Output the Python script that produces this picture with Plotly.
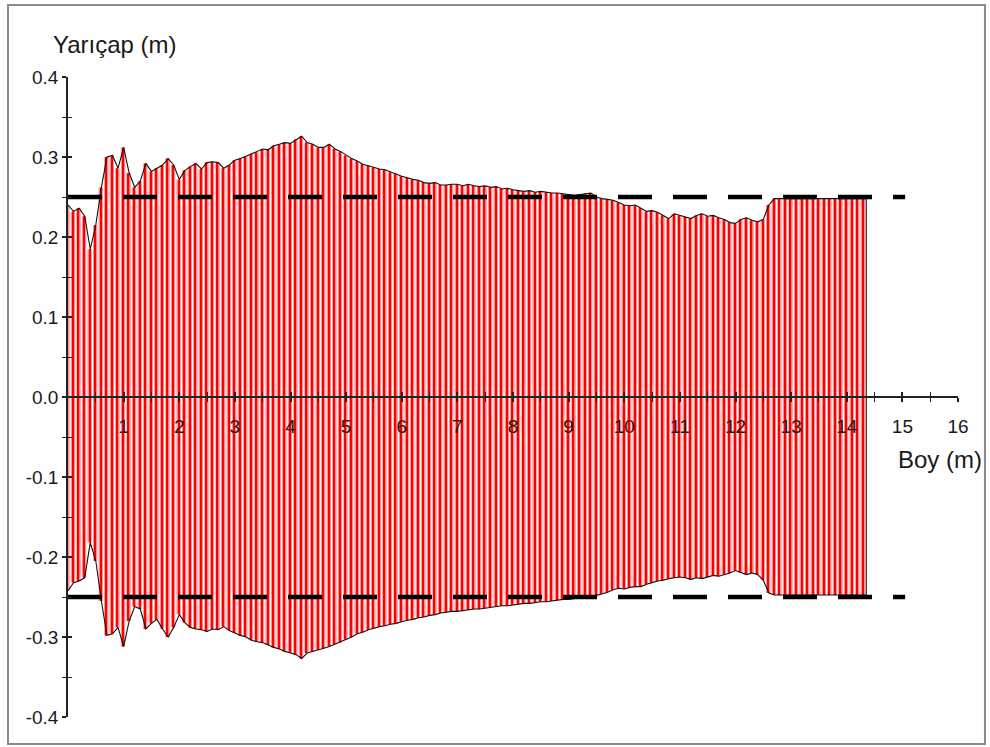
import plotly.graph_objects as go

# Radius profile along the length (station spacing 0.1 m)
top_radius = [
    0.240, 0.232, 0.236, 0.226, 0.185, 0.215, 0.262, 0.300, 0.302, 0.286,
    0.312, 0.280, 0.262, 0.270, 0.292, 0.282, 0.286, 0.290, 0.298, 0.290,
    0.272, 0.283, 0.288, 0.292, 0.285, 0.293, 0.294, 0.293, 0.286, 0.290,
    0.296, 0.298, 0.301, 0.304, 0.306, 0.310, 0.309, 0.314, 0.316, 0.318,
    0.317, 0.322, 0.326, 0.318, 0.316, 0.312, 0.312, 0.316, 0.310, 0.307,
    0.302, 0.298, 0.295, 0.291, 0.289, 0.287, 0.285, 0.284, 0.281, 0.279,
    0.276, 0.274, 0.272, 0.271, 0.268, 0.267, 0.268, 0.265, 0.265, 0.266,
    0.266, 0.264, 0.266, 0.264, 0.263, 0.264, 0.262, 0.263, 0.260, 0.261,
    0.259, 0.258, 0.257, 0.258, 0.256, 0.257, 0.256, 0.255, 0.255, 0.254,
    0.253, 0.252, 0.253, 0.254, 0.255, 0.250, 0.248, 0.247, 0.246, 0.243,
    0.240, 0.239, 0.240, 0.236, 0.232, 0.233, 0.231, 0.227, 0.223, 0.229,
    0.227, 0.225, 0.223, 0.227, 0.229, 0.226, 0.227, 0.224, 0.222, 0.218,
    0.217, 0.222, 0.224, 0.221, 0.219, 0.222, 0.240, 0.248, 0.248, 0.248,
    0.248, 0.248, 0.248, 0.248, 0.248, 0.248, 0.248, 0.248, 0.248, 0.248,
    0.248, 0.248, 0.248, 0.248,
]
bottom_radius = [
    0.242, 0.232, 0.230, 0.226, 0.182, 0.205, 0.255, 0.298, 0.296, 0.288,
    0.312, 0.280, 0.262, 0.265, 0.290, 0.283, 0.278, 0.290, 0.300, 0.288,
    0.272, 0.282, 0.288, 0.290, 0.291, 0.293, 0.290, 0.291, 0.287, 0.292,
    0.295, 0.298, 0.300, 0.304, 0.306, 0.307, 0.310, 0.313, 0.315, 0.318,
    0.320, 0.322, 0.327, 0.320, 0.318, 0.316, 0.314, 0.312, 0.309, 0.307,
    0.303, 0.300, 0.296, 0.294, 0.291, 0.289, 0.287, 0.286, 0.284, 0.283,
    0.281, 0.279, 0.278, 0.276, 0.275, 0.273, 0.272, 0.270, 0.269, 0.268,
    0.268, 0.267, 0.266, 0.265, 0.265, 0.264, 0.263, 0.262, 0.261, 0.261,
    0.260, 0.259, 0.258, 0.258, 0.257, 0.256, 0.256, 0.255, 0.254, 0.253,
    0.253, 0.252, 0.251, 0.250, 0.249, 0.248, 0.246, 0.244, 0.241, 0.239,
    0.240, 0.238, 0.237, 0.237, 0.234, 0.232, 0.230, 0.229, 0.227, 0.226,
    0.225, 0.226, 0.228, 0.226, 0.227, 0.225, 0.223, 0.224, 0.222, 0.220,
    0.217, 0.219, 0.222, 0.220, 0.222, 0.229, 0.245, 0.2475, 0.2475, 0.2475,
    0.2475, 0.2475, 0.2475, 0.2475, 0.2475, 0.2475, 0.2475, 0.2475, 0.2475, 0.2475,
    0.2475, 0.2475, 0.2475, 0.2475,
]
station_step = 0.1
stations = [round(i * station_step, 2) for i in range(len(top_radius))]
design_radius = 0.25
design_end = 15.05
x_tick_values = list(range(1, 17))
x_tick_labels = [str(v) for v in x_tick_values]
x_minor_ticks = [k + 0.5 for k in range(16)]
y_tick_values = [-0.4, -0.3, -0.2, -0.1, 0.0, 0.1, 0.2, 0.3, 0.4]
y_tick_labels = ["-0.4", "-0.3", "-0.2", "-0.1", "0.0", "0.1", "0.2", "0.3", "0.4"]
y_minor_ticks = [-0.35, -0.25, -0.15, -0.05, 0.05, 0.15, 0.25, 0.35]

FONT = "Liberation Sans, Arial, sans-serif"
TXT = "#1a1a1a"

half = station_step / 2
end_x = stations[-1] + half
heights = [t + b for t, b in zip(top_radius, bottom_radius)]
bases = [-b for b in bottom_radius]

fig = go.Figure()

# pink body of each station bar
fig.add_trace(go.Bar(
    x=stations, y=heights, base=bases,
    width=station_step * 0.78, offset=-half,
    marker=dict(color="#ff8f8f", line=dict(width=0)),
    hoverinfo="skip", showlegend=False,
))
# saturated red stripe inside each bar
fig.add_trace(go.Bar(
    x=stations, y=heights, base=bases,
    width=station_step * 0.22, offset=-half + station_step * 0.28,
    marker=dict(color="#ff0000", line=dict(width=0)),
    hoverinfo="skip", showlegend=False,
))

# outline of the profile
ox = [0.0] + stations + [end_x, end_x] + stations[::-1] + [0.0]
oy = ([top_radius[0]] + top_radius + [top_radius[-1], -bottom_radius[-1]]
      + [-b for b in bottom_radius[::-1]] + [-bottom_radius[0]])
fig.add_trace(go.Scatter(
    x=ox, y=oy, mode="lines",
    line=dict(color="#111111", width=1.1),
    hoverinfo="skip", showlegend=False,
))

for r in (design_radius, -design_radius):
    fig.add_trace(go.Scatter(
        x=[0, design_end], y=[r, r], mode="lines",
        line=dict(color="black", width=4.5, dash="34px,21px"),
        xaxis="x2", yaxis="y2",
        hoverinfo="skip", showlegend=False,
    ))

axis_common = dict(showgrid=False, zeroline=False, showline=True,
                   linecolor="#222222", linewidth=1.5,
                   tickcolor="#222222", tickwidth=1.5, ticklen=4)
minor_out = dict(ticks="outside", ticklen=4, tickcolor="#222222", tickwidth=1.2)
minor_in = dict(ticks="inside", ticklen=4, tickcolor="#222222", tickwidth=1.2)

fig.update_layout(
    width=990, height=747, autosize=False,
    margin=dict(l=68, r=32, t=77, b=30),
    paper_bgcolor="white", plot_bgcolor="white",
    font=dict(family=FONT, color=TXT, size=19),
    barmode="overlay",
    xaxis=dict(
        range=[0, 16], anchor="free", position=0.5,
        tickmode="array", tickvals=x_tick_values, ticktext=x_tick_labels,
        ticks="outside", ticklabelstandoff=8,
        minor=dict(tickmode="array", tickvals=x_minor_ticks, **minor_out),
        tickfont=dict(size=19, family=FONT, color=TXT),
        **axis_common,
    ),
    xaxis2=dict(
        range=[0, 16], anchor="free", position=0.5, overlaying="x",
        tickmode="array", tickvals=x_tick_values, showticklabels=False,
        ticks="inside",
        minor=dict(tickmode="array", tickvals=x_minor_ticks, **minor_in),
        **axis_common,
    ),
    yaxis=dict(
        range=[-0.4, 0.4], tickmode="array", tickvals=y_tick_values,
        ticktext=y_tick_labels, ticks="outside",
        minor=dict(tickmode="array", tickvals=y_minor_ticks, **minor_out),
        tickfont=dict(size=19, family=FONT, color=TXT),
        **axis_common,
    ),
    yaxis2=dict(
        range=[-0.4, 0.4], overlaying="y", anchor="x2", side="left",
        tickmode="array", tickvals=y_tick_values, showticklabels=False,
        ticks="inside",
        minor=dict(tickmode="array", tickvals=y_minor_ticks, **minor_in),
        **axis_common,
    ),
    annotations=[
        dict(text="Yarıçap (m)", xref="paper", yref="paper",
             x=0.0528, y=1.05, xanchor="center", yanchor="middle",
             showarrow=False, font=dict(size=24, family=FONT, color=TXT)),
        dict(text="Boy (m)", xref="paper", yref="paper",
             x=0.98, y=0.403, xanchor="center", yanchor="middle",
             showarrow=False, font=dict(size=24, family=FONT, color=TXT)),
    ],
    shapes=[
        dict(type="rect", xref="paper", yref="paper",
             x0=-0.0674, x1=1.0303, y0=-0.042, y1=1.1125,
             line=dict(color="#8a8a8a", width=2), layer="below"),
    ],
)

fig.write_html(
    "out.html",
    config={"displayModeBar": False},
    post_script="document.body.style.margin='0px';document.body.style.overflow='hidden';",
)
